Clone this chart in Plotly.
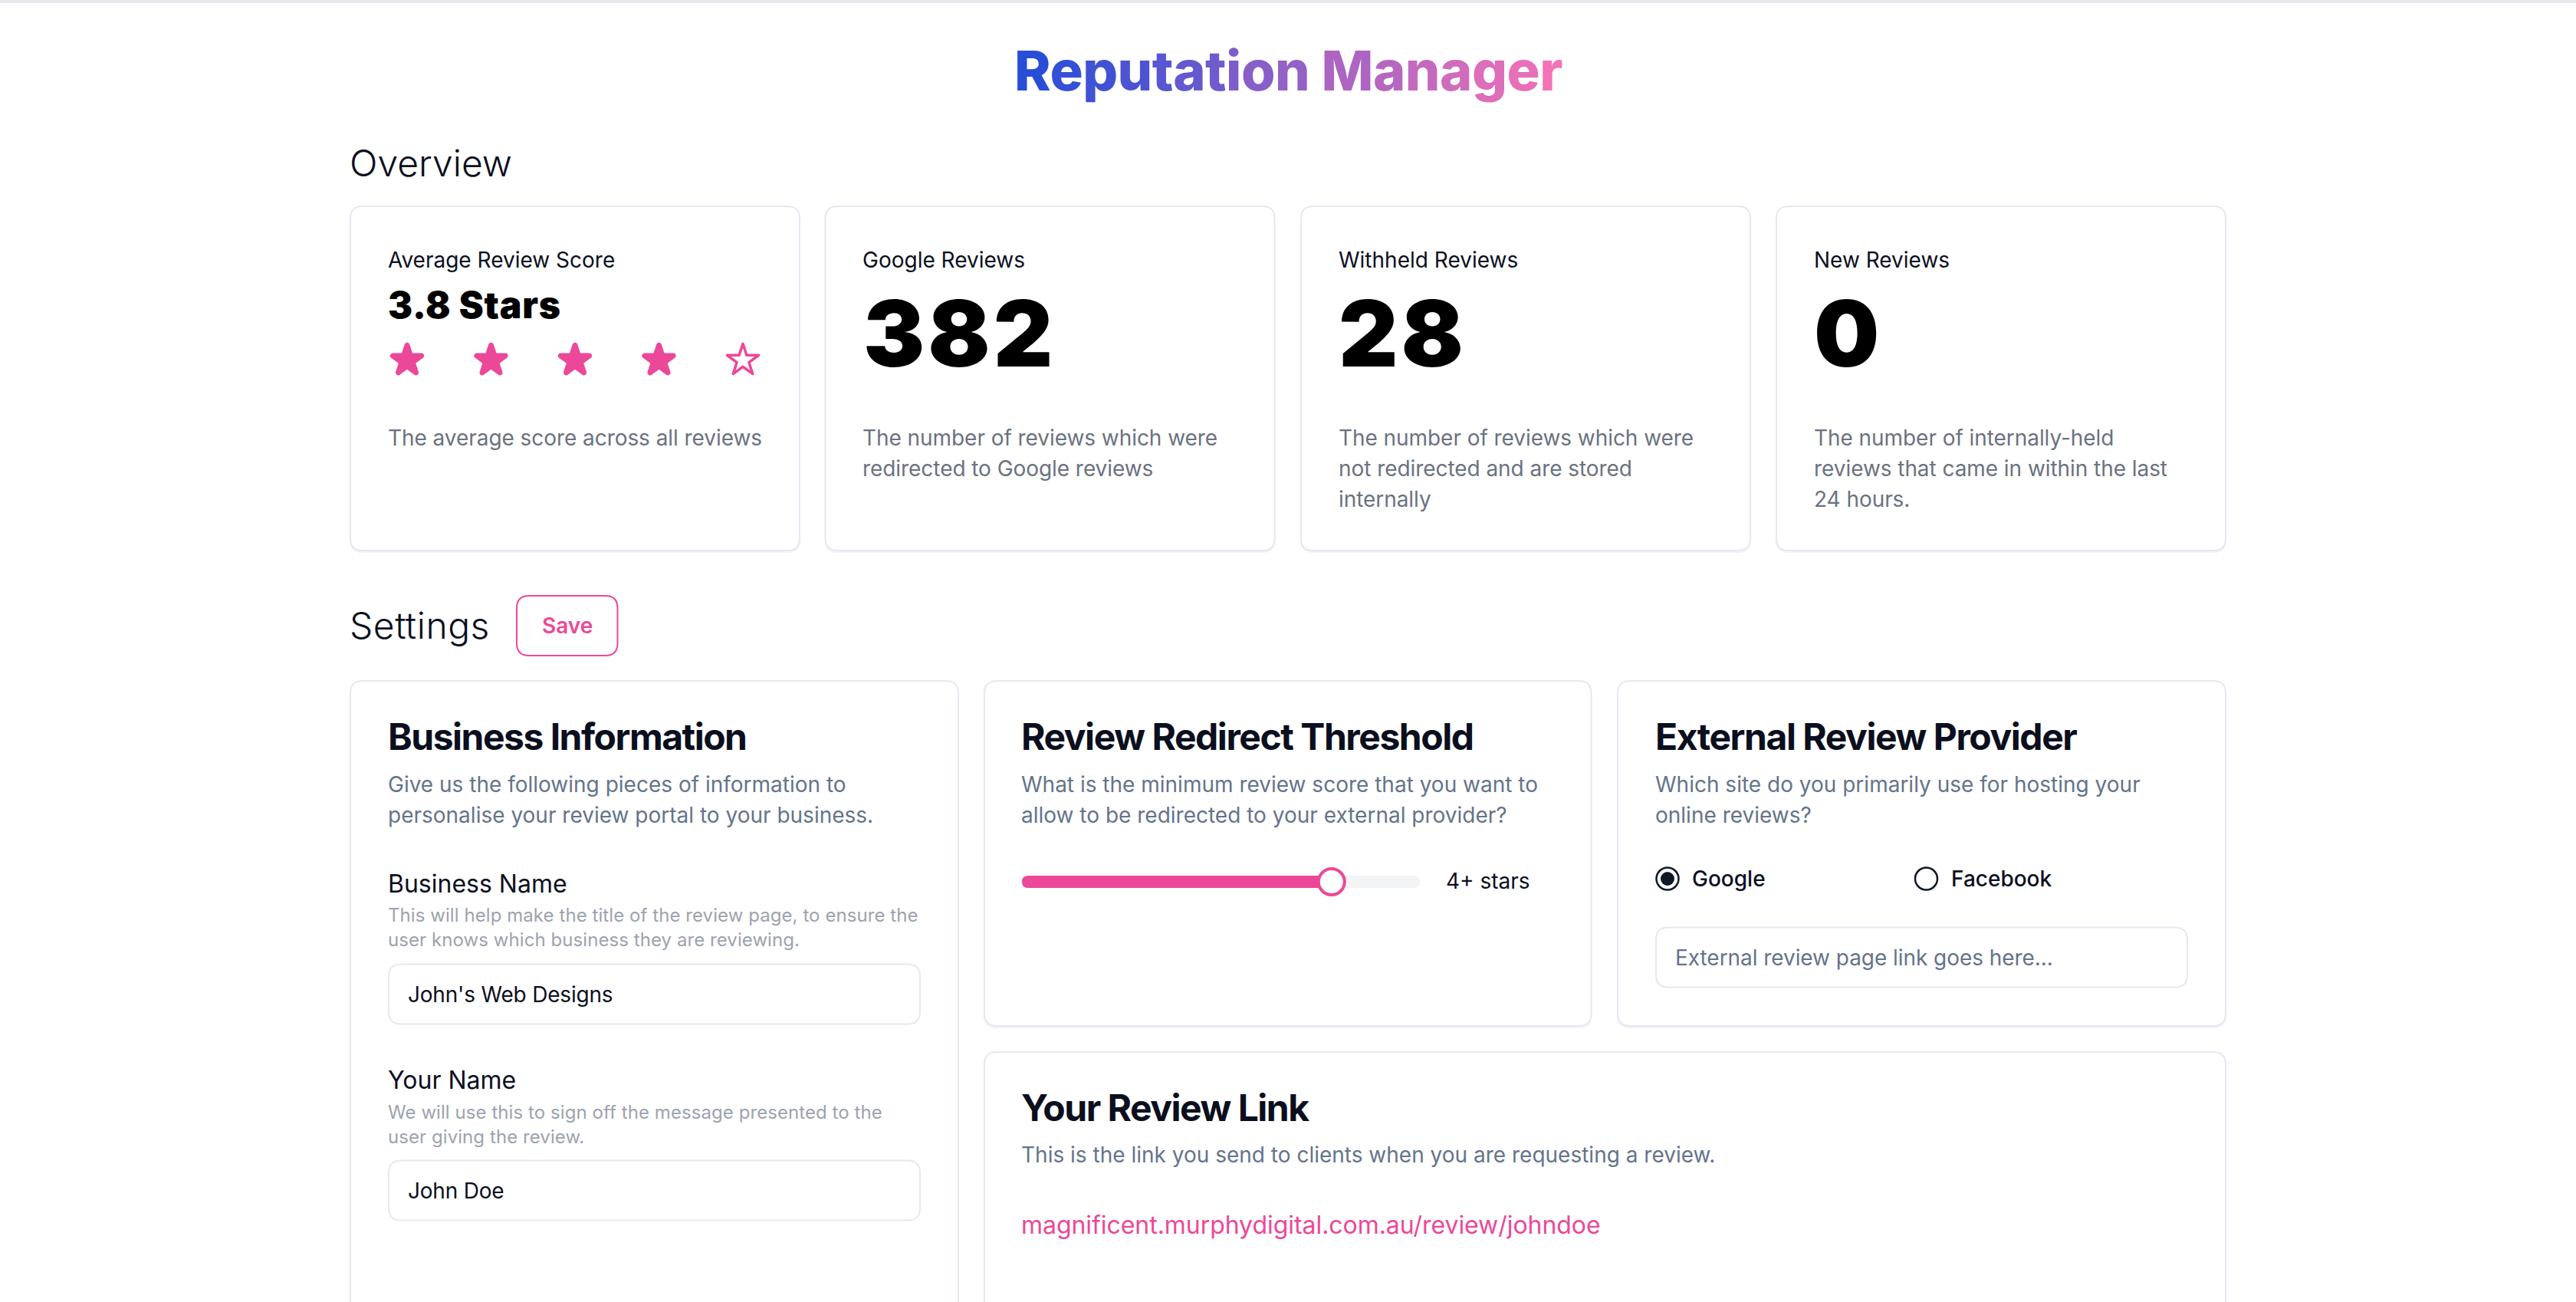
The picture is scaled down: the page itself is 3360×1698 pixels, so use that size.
import plotly.graph_objects as go

# overview cards
overview_labels = ["Average Review Score", "Google Reviews", "Withheld Reviews", "New Reviews"]
overview_values = ["3.8 Stars", "382", "28", "0"]
overview_notes = [
    ["The average score across all reviews"],
    ["The number of reviews which were", "redirected to Google reviews"],
    ["The number of reviews which were", "not redirected and are stored", "internally"],
    ["The number of internally-held", "reviews that came in within the last", "24 hours."],
]
star_slots = [1, 2, 3, 4, 5]
star_filled = [True, True, True, True, False]

# settings
threshold_value = 4
threshold_min = 0
threshold_max = 5
threshold_label = "4+ stars"
provider_names = ["Google", "Facebook"]
provider_selected = [True, False]
business_desc = ["Give us the following pieces of information to", "personalise your review portal to your business."]
redirect_desc = ["What is the minimum review score that you want to", "allow to be redirected to your external provider?"]
external_desc = ["Which site do you primarily use for hosting your", "online reviews?"]
name_help = ["This will help make the title of the review page, to ensure the", "user knows which business they are reviewing."]
your_name_help = ["We will use this to sign off the message presented to the", "user giving the review."]
review_link = "magnificent.murphydigital.com.au/review/johndoe"

PINK = "#ec4899"
BORDER = "#e5e9f0"
INK = "#0b0f1e"
GREY = "#6b7280"
SLATE = "#64748b"
FONT = "Inter"

fig = go.Figure()
shapes = []
notes = []


def rounded(x0, y0, x1, y1, r):
    return (f"M{x0+r},{y0} L{x1-r},{y0} Q{x1},{y0} {x1},{y0+r} L{x1},{y1-r} Q{x1},{y1} {x1-r},{y1} "
            f"L{x0+r},{y1} Q{x0},{y1} {x0},{y1-r} L{x0},{y0+r} Q{x0},{y0} {x0+r},{y0} Z")


def box(x0, y0, x1, y1, r=16, line=BORDER, width=2, fill="#ffffff", shadow=True):
    if shadow:
        shapes.append(dict(type="path", path=rounded(x0, y0 + 2, x1, y1 + 2, r), fillcolor="#f1f3f6",
                           line=dict(color="#f1f3f6", width=width), layer="below"))
    shapes.append(dict(type="path", path=rounded(x0, y0, x1, y1, r), fillcolor=fill,
                       line=dict(color=line, width=width), layer="below"))


def text(x, baseline, s, size, color=INK, weight=400, spacing=None, anchor="left"):
    if spacing is not None:
        s = f'<span style="letter-spacing:{spacing}px">{s}</span>'
    if anchor == "left":
        x -= 1.5
    notes.append(dict(x=x, y=baseline - 0.969 * size, text=s, showarrow=False, xanchor=anchor, yanchor="top",
                      xref="x", yref="y", borderpad=0, borderwidth=0, align="left",
                      font=dict(family=FONT, size=size, color=color, weight=weight)))


# top rule
shapes.append(dict(type="rect", x0=0, x1=3360, y0=0, y1=4, fillcolor="#e5e7eb", line_width=0, layer="below"))

# title, one colour per letter for the gradient
title = "Reputation Manager"
c0 = (40, 78, 216)
c1 = (244, 114, 182)
spans = ""
for i, ch in enumerate(title):
    t = i / (len(title) - 1)
    col = tuple(round(a + (b - a) * t) for a, b in zip(c0, c1))
    spans += f'<span style="fill:rgb{col};letter-spacing:-0.5px">{ch}</span>'
notes.append(dict(x=1680, y=118 - 0.969 * 72, text=spans, showarrow=False, xanchor="center", yanchor="top",
                  xref="x", yref="y", borderpad=0, borderwidth=0,
                  font=dict(family=FONT, size=72, color="#1d4ed8", weight=800)))

# overview
text(457, 230, "Overview", 48, weight=300)
card_x = [457, 1076.5, 1697, 2317]
for i in range(4):
    x = card_x[i]
    box(x, 269, x + 586, 718)
    text(x + 50, 349, overview_labels[i], 28)
    if i == 0:
        text(x + 50, 415, overview_values[i], 48, color="#000000", weight=900, spacing=0.8)
    else:
        text(x + 50.5, 478, overview_values[i], 120, color="#000000", weight=900, spacing=4)
    for j, line in enumerate(overview_notes[i]):
        text(x + 50, 581 + j * 40, line, 28, color=GREY, spacing=-0.06)

fig.add_trace(go.Scatter(
    x=[531 + (s - 1) * 109.5 for s in star_slots], y=[470] * len(star_slots), mode="markers", hoverinfo="skip",
    marker=dict(symbol=["star" if f else "star-open" for f in star_filled], opacity=1,
                size=[28 if f else 31 for f in star_filled], color=PINK,
                line=dict(color=PINK, width=[7 if f else 3.5 for f in star_filled]))))

# settings
text(457, 833, "Settings", 48, weight=300, spacing=0.5)
box(674, 777, 805.5, 855, line=PINK, width=2, shadow=False)
text(739.5, 826, "Save", 28, color=PINK, weight=600, anchor="center")

box(457, 888, 1250, 1740)
box(1284, 888, 2075.5, 1338)
box(2110, 888, 2903, 1338)
box(1284, 1372, 2903, 1740)

text(507, 978, "Business Information", 48, weight=700, spacing=-1.5)
text(1333, 978, "Review Redirect Threshold", 48, weight=700, spacing=-1.45)
text(2160, 978, "External Review Provider", 48, weight=700, spacing=-1.45)
text(1333, 1462, "Your Review Link", 48, weight=700, spacing=-1.5)

for j in range(2):
    text(507, 1033 + j * 40, business_desc[j], 28, color=SLATE)
    text(1333, 1033 + j * 40, redirect_desc[j], 28, color=SLATE)
    text(2160, 1033 + j * 40, external_desc[j], 28, color=SLATE)
    text(507, 1202 + j * 32, name_help[j], 24, color="#9ca3af", spacing=0.07)
    text(507, 1459 + j * 32, your_name_help[j], 24, color="#9ca3af", spacing=0.07)

text(507, 1164.5, "Business Name", 32)
box(507, 1257.5, 1200, 1335.5, shadow=False)
text(533, 1307.5, "John's Web Designs", 28, spacing=-0.2)
text(507, 1420.5, "Your Name", 32)
box(507, 1513.5, 1200, 1591.5, shadow=False)
text(533, 1563.5, "John Doe", 28, spacing=-0.2)

# slider
track_x0, track_x1 = 1333, 1852
thumb = 38
thumb_x = track_x0 + thumb / 2 + (threshold_value - threshold_min) / (threshold_max - threshold_min) * (track_x1 - track_x0 - thumb)
box(track_x0, 1142, track_x1, 1158, r=8, line="#f3f4f6", width=0, fill="#f3f4f6", shadow=False)
box(track_x0, 1142, thumb_x, 1158, r=8, line=PINK, width=0, fill=PINK, shadow=False)
fig.add_trace(go.Scatter(x=[thumb_x], y=[1150], mode="markers", hoverinfo="skip",
                         marker=dict(symbol="circle", size=34, color="#ffffff", line=dict(color=PINK, width=4))))
text(1887, 1159, threshold_label, 28)

# provider radios
radio_x = [2175, 2512.5]
label_x = [2208, 2546]
fig.add_trace(go.Scatter(x=radio_x, y=[1146, 1146], mode="markers", hoverinfo="skip",
                         marker=dict(symbol="circle", size=29, color="#ffffff", line=dict(color="#111827", width=2.5))))
fig.add_trace(go.Scatter(x=[x for x, s in zip(radio_x, provider_selected) if s], y=[1146], mode="markers", hoverinfo="skip",
                         marker=dict(symbol="circle", size=18, color="#111827")))
for x, name in zip(label_x, provider_names):
    text(x, 1156, name, 28, weight=500)
box(2160, 1209.5, 2853, 1287.5, shadow=False)
text(2186.5, 1259, "External review page link goes here...", 28, color=SLATE, spacing=-0.06)

text(1333, 1516, "This is the link you send to clients when you are requesting a review.", 28, color=SLATE)
text(1333, 1609, review_link, 32, color=PINK, spacing=-0.05)

fig.update_layout(
    width=3360, height=1698, margin=dict(l=0, r=0, t=0, b=0), showlegend=False,
    paper_bgcolor="#ffffff", plot_bgcolor="#ffffff", shapes=shapes, annotations=notes,
    xaxis=dict(range=[0, 3360], visible=False, fixedrange=True),
    yaxis=dict(range=[1698, 0], visible=False, fixedrange=True),
)
# rounded star tips
fig.write_html("out.html", config={"displayModeBar": False},
               post_script="document.body.style.margin='0';"
                           "document.querySelectorAll('.point').forEach(p => p.style.strokeLinejoin = 'round');")
